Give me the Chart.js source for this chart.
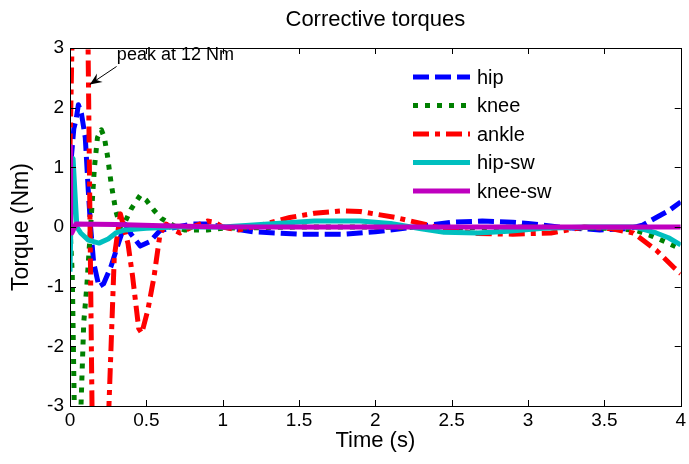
<!DOCTYPE html>
<html>
<head>
<meta charset="utf-8">
<script src="https://cdn.jsdelivr.net/npm/chart.js@4/dist/chart.umd.min.js"></script>
<style>
  body { margin: 0; background: #fff; }
  .wrap { width: 689px; height: 464px; position: relative; }
</style>
</head>
<body>
<div class="wrap"><canvas id="myChart"></canvas></div>
<script>
// time (s) and torque (Nm)
const hipT = [0, 0.01, 0.025, 0.04, 0.055, 0.075, 0.1, 0.12, 0.135, 0.155, 0.19, 0.22, 0.27, 0.32, 0.36, 0.40, 0.46, 0.52, 0.59, 0.7, 0.8, 0.9, 1.0, 1.2, 1.5, 1.8, 2.0, 2.26, 2.5, 2.7, 2.9, 3.0, 3.2, 3.47, 3.65, 3.75, 3.84, 3.92, 4.0];
const hipV = [0, 1.2, 1.65, 1.8, 2.05, 1.9, 1.5, 0.6, 0.0, -0.6, -1.0, -0.95, -0.65, -0.25, 0.05, -0.12, -0.32, -0.25, -0.06, 0.0, 0.05, 0.05, 0.0, -0.08, -0.12, -0.12, -0.08, 0.0, 0.08, 0.1, 0.08, 0.06, 0.0, -0.05, -0.03, 0.03, 0.16, 0.27, 0.42];

const kneeT = [0, 0.015, 0.028, 0.045, 0.06, 0.072, 0.09, 0.11, 0.135, 0.16, 0.18, 0.205, 0.225, 0.245, 0.27, 0.30, 0.33, 0.36, 0.40, 0.46, 0.50, 0.55, 0.6, 0.68, 0.75, 0.9, 1.0, 1.5, 2.0, 2.5, 3.0, 3.5, 3.7, 3.8, 3.9, 4.0];
const kneeV = [0, -0.8, -3.0, -4.2, -3.8, -3.0, -1.6, -1.0, 0.0, 1.0, 1.5, 1.63, 1.5, 1.2, 0.72, 0.27, 0.0, 0.08, 0.3, 0.53, 0.45, 0.28, 0.14, 0.02, -0.05, -0.05, -0.02, 0.0, 0.0, -0.02, 0.0, -0.02, -0.05, -0.14, -0.25, -0.37];

const ankleT = [0, 0.08, 0.145, 0.2, 0.255, 0.29, 0.33, 0.38, 0.41, 0.45, 0.47, 0.51, 0.55, 0.59, 0.63, 0.68, 0.72, 0.8, 0.9, 0.95, 1.0, 1.1, 1.25, 1.44, 1.6, 1.78, 1.9, 2.13, 2.3, 2.45, 2.67, 2.9, 3.15, 3.37, 3.55, 3.69, 3.84, 3.96, 4.0];
const ankleV = [1.3, 12, -3.2, -6, -3, -0.5, 0.22, -0.28, -0.83, -1.7, -1.78, -1.39, -0.84, -0.11, 0.05, -0.05, -0.1, 0.0, 0.1, 0.08, 0.0, -0.05, 0.03, 0.16, 0.23, 0.27, 0.26, 0.16, 0.06, -0.03, -0.11, -0.12, -0.1, 0.0, -0.03, -0.1, -0.39, -0.69, -0.78];

const hipswT = [0, 0.01, 0.02, 0.045, 0.07, 0.12, 0.19, 0.25, 0.3, 0.36, 0.5, 0.7, 1.0, 1.3, 1.6, 1.9, 2.1, 2.3, 2.45, 2.67, 2.87, 3.1, 3.4, 3.7, 3.84, 3.92, 4.0];
const hipswV = [-0.75, 0.6, 1.15, 0.0, -0.1, -0.22, -0.27, -0.2, -0.1, -0.05, -0.02, 0.0, 0.0, 0.05, 0.1, 0.1, 0.06, -0.03, -0.09, -0.1, -0.07, -0.02, 0.0, 0.0, -0.1, -0.18, -0.3];

const kneeswT = [0, 0.004, 0.012, 0.04, 0.3, 0.6, 1.0, 2.0, 3.0, 4.0];
const kneeswV = [1.35, 0.0, -0.1, 0.05, 0.04, 0.02, 0.0, 0.0, 0.0, 0.0];

const seriesNames = ['hip', 'knee', 'ankle', 'hip-sw', 'knee-sw'];

const xTicks = [0, 0.5, 1, 1.5, 2, 2.5, 3, 3.5, 4];
const xTickLabels = ['0', '0.5', '1', '1.5', '2', '2.5', '3', '3.5', '4'];
const yTicks = [-3, -2, -1, 0, 1, 2, 3];
const yTickLabels = ['-3', '-2', '-1', '0', '1', '2', '3'];

const FONT = "'Liberation Sans', Arial, sans-serif";

const pts = (ts, vs) => ts.map((t, i) => ({ x: t, y: vs[i] }));

const mkSet = (label, ts, vs, color, dash, order) => ({
    label: label,
    data: pts(ts, vs),
    borderColor: color,
    backgroundColor: color,
    borderWidth: 5,
    borderDash: dash,
    borderJoinStyle: 'round',
    pointRadius: 0,
    tension: 0,
    fill: false,
    clip: 0,
    order: order
});

// box, inward ticks, title, legend and the arrow note
const matlabLook = {
    id: 'matlabLook',
    afterDatasetsDraw(chart) {
        const ctx = chart.ctx;
        const a = chart.chartArea;
        const xs = chart.scales.x;
        const ys = chart.scales.y;
        ctx.save();
        ctx.strokeStyle = '#000';
        ctx.lineWidth = 1;
        ctx.setLineDash([]);
        ctx.beginPath();
        xTicks.forEach(v => {
            const px = Math.round(xs.getPixelForValue(v)) + 0.5;
            ctx.moveTo(px, a.bottom); ctx.lineTo(px, a.bottom - 6);
            ctx.moveTo(px, a.top); ctx.lineTo(px, a.top + 6);
        });
        yTicks.forEach(v => {
            const py = Math.round(ys.getPixelForValue(v)) + 0.5;
            ctx.moveTo(a.left, py); ctx.lineTo(a.left + 6, py);
            ctx.moveTo(a.right, py); ctx.lineTo(a.right - 6, py);
        });
        ctx.stroke();
        ctx.strokeRect(Math.round(a.left) + 0.5, Math.round(a.top) + 0.5,
            Math.round(a.right - a.left), Math.round(a.bottom - a.top));

        // title
        ctx.fillStyle = '#000';
        ctx.font = '22px ' + FONT;
        ctx.textAlign = 'center';
        ctx.textBaseline = 'middle';
        ctx.fillText('Corrective torques', (a.left + a.right) / 2, 20);

        // legend
        const lx = 413, ly = 77, step = 28.5;
        ctx.font = '20px ' + FONT;
        ctx.textAlign = 'left';
        chart.data.datasets.forEach((ds, i) => {
            const y = ly + i * step;
            ctx.strokeStyle = ds.borderColor;
            ctx.lineWidth = 5;
            ctx.setLineDash(ds.borderDash);
            ctx.beginPath();
            ctx.moveTo(lx, y);
            ctx.lineTo(lx + 57, y);
            ctx.stroke();
            ctx.setLineDash([]);
            ctx.fillStyle = '#000';
            ctx.fillText(ds.label, lx + 64, y + 1);
        });

        // note on the ankle peak
        const tx = xs.getPixelForValue(0.307), ty = ys.getPixelForValue(2.88);
        ctx.font = '18px ' + FONT;
        ctx.fillText('peak at 12 Nm', tx, ty);
        const x0 = xs.getPixelForValue(0.305), y0 = ys.getPixelForValue(2.69);
        const x1 = xs.getPixelForValue(0.13), y1 = ys.getPixelForValue(2.39);
        ctx.strokeStyle = '#000';
        ctx.lineWidth = 1;
        ctx.beginPath();
        ctx.moveTo(x0, y0);
        ctx.lineTo(x1, y1);
        ctx.stroke();
        const ang = Math.atan2(y1 - y0, x1 - x0);
        const L = 13, W = 0.4;
        ctx.beginPath();
        ctx.moveTo(x1, y1);
        ctx.lineTo(x1 - L * Math.cos(ang - W), y1 - L * Math.sin(ang - W));
        ctx.lineTo(x1 - L * 0.6 * Math.cos(ang), y1 - L * 0.6 * Math.sin(ang));
        ctx.lineTo(x1 - L * Math.cos(ang + W), y1 - L * Math.sin(ang + W));
        ctx.closePath();
        ctx.fillStyle = '#000';
        ctx.fill();
        ctx.restore();
    }
};

const ctx = document.getElementById('myChart').getContext('2d');
new Chart(ctx, {
    type: 'line',
    data: {
        datasets: [
            mkSet(seriesNames[0], hipT, hipV, '#0000ff', [16, 6], 4),
            mkSet(seriesNames[1], kneeT, kneeV, '#008000', [5, 7], 3),
            mkSet(seriesNames[2], ankleT, ankleV, '#ff0000', [16, 6, 5, 6], 2),
            mkSet(seriesNames[3], hipswT, hipswV, '#00bfbf', [], 1),
            mkSet(seriesNames[4], kneeswT, kneeswV, '#bf00bf', [], 0)
        ]
    },
    options: {
        responsive: true,
        maintainAspectRatio: false,
        animation: false,
        devicePixelRatio: 1,
        layout: { padding: { top: 48, right: 6, left: 0, bottom: 0 } },
        plugins: {
            legend: { display: false },
            title: { display: false },
            tooltip: { enabled: false }
        },
        scales: {
            x: {
                type: 'linear',
                min: 0,
                max: 4,
                grid: { display: false, drawTicks: false },
                border: { display: false },
                afterBuildTicks: s => { s.ticks = xTicks.map(v => ({ value: v })); },
                afterFit: s => { s.height = 58; },
                ticks: {
                    autoSkip: false,
                    maxRotation: 0,
                    padding: 3,
                    color: '#000',
                    font: { family: FONT, size: 19 },
                    callback: (v, i) => xTickLabels[i]
                },
                title: {
                    display: true,
                    text: 'Time (s)',
                    color: '#000',
                    font: { family: FONT, size: 22 },
                    padding: { top: 10, bottom: 10 }
                }
            },
            y: {
                type: 'linear',
                min: -3,
                max: 3,
                grid: { display: false, drawTicks: false },
                border: { display: false },
                afterBuildTicks: s => { s.ticks = yTicks.map(v => ({ value: v })); },
                afterFit: s => { s.width = 70; },
                ticks: {
                    autoSkip: false,
                    padding: 6,
                    color: '#000',
                    font: { family: FONT, size: 19 },
                    callback: (v, i) => yTickLabels[i]
                },
                title: {
                    display: true,
                    text: 'Torque (Nm)',
                    color: '#000',
                    font: { family: FONT, size: 23 },
                    padding: { top: 8, bottom: 8 }
                }
            }
        }
    },
    plugins: [matlabLook]
});
</script>
</body>
</html>
